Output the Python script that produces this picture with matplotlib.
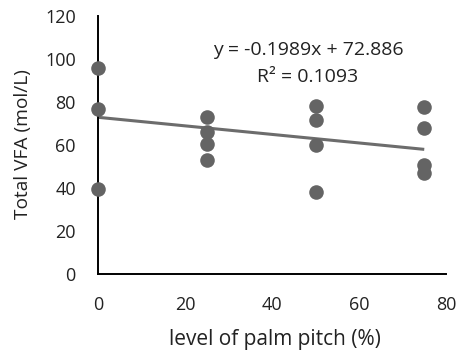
import matplotlib
matplotlib.use("Agg")
import matplotlib.pyplot as plt
import numpy as np

plt.rcParams['font.family'] = ['Open Sans', 'DejaVu Sans']

# data
x_vals = [0, 0, 0, 25, 25, 25, 25, 50, 50, 50, 50, 75, 75, 75, 75]
y_vals = [95.8, 76.9, 39.5, 72.8, 66.0, 60.4, 53.2, 78.3, 71.5, 60.0, 38.3, 77.7, 67.8, 50.7, 46.8]
slope = -0.1989
intercept = 72.886
r2 = 0.1093
x_ticks = [0, 20, 40, 60, 80]
y_ticks = [0, 20, 40, 60, 80, 100, 120]

W, H = 459, 356
fig = plt.figure(figsize=(W/100, H/100), dpi=100)
ax = fig.add_axes([98/W, (H-274)/H, (446-98)/W, (274-16)/H])

xl = np.array([min(x_vals), max(x_vals)])
ax.plot(xl, slope*xl + intercept, color='#6c6c6c', lw=2.2, zorder=2, solid_capstyle='butt')
ax.scatter(x_vals, y_vals, s=110, color='#646464', zorder=3, linewidths=0, clip_on=False)

ax.set_xlim(0, 80)
ax.set_ylim(0, 120)
ax.set_xticks(x_ticks)
ax.set_yticks(y_ticks)
ax.tick_params(length=0, labelsize=13, colors='#222222')
ax.tick_params(axis='x', pad=15.5)
ax.tick_params(axis='y', pad=16)
for s in ['top', 'right']:
    ax.spines[s].set_visible(False)
for s in ['left', 'bottom']:
    ax.spines[s].set_linewidth(1.4)
    ax.spines[s].set_color('black')

ax.set_xlabel('level of palm pitch (%)', fontsize=15, color='#222222', va='center')
ax.set_ylabel('Total VFA (mol/L)', fontsize=13.8, color='#222222', va='center')
ax.xaxis.set_label_coords(275/W, 1-340/H, transform=fig.transFigure)
ax.yaxis.set_label_coords(23/W, 1-144/H, transform=fig.transFigure)

fig.text(308/W, 1-50/H, f'y = {slope}x + {intercept}', ha='center', va='center', fontsize=14, color='#222222')
fig.text(308/W, 1-77/H, f'R\u00b2 = {r2}', ha='center', va='center', fontsize=14, color='#222222')

fig.savefig('out.png', dpi=100)
